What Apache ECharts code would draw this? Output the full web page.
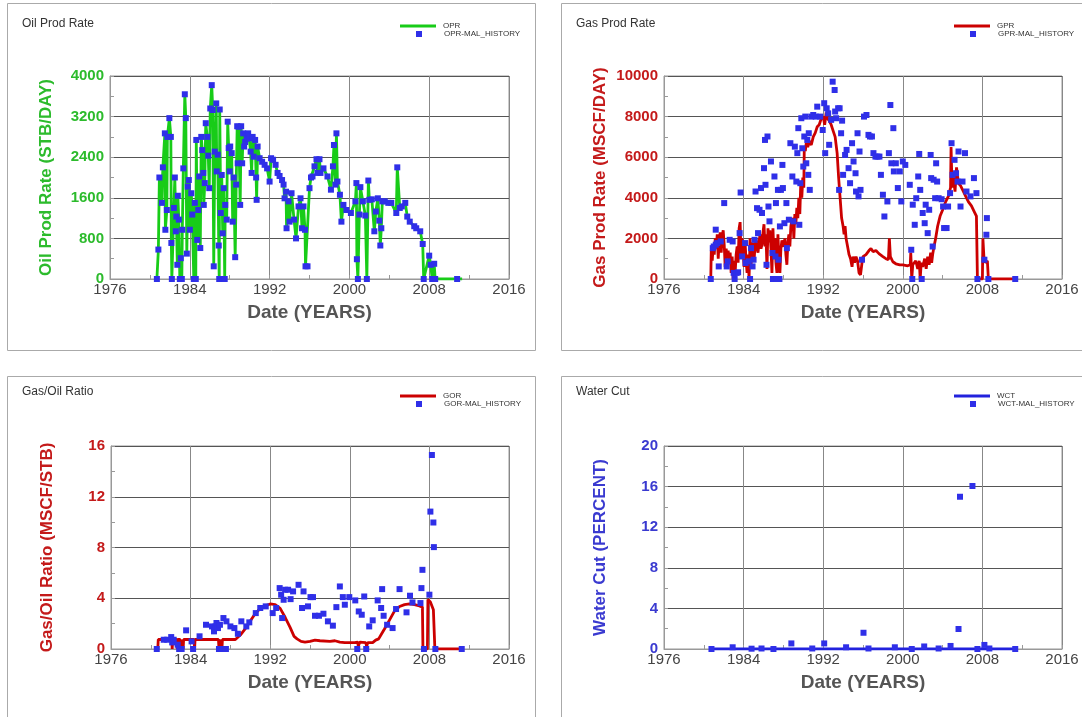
<!DOCTYPE html>
<html>
<head>
<meta charset="utf-8">
<script src="https://cdn.jsdelivr.net/npm/echarts@6/dist/echarts.min.js"></script>
<style>html,body{margin:0;padding:0;background:#fff;}#c{width:1082px;height:717px;}</style>
</head>
<body>
<div id="c"></div>
<script>
// ---------- DATA ----------
const panelTitles = ['Oil Prod Rate', 'Gas Prod Rate', 'Gas/Oil Ratio', 'Water Cut'];
const yNames = ['Oil Prod Rate (STB/DAY)', 'Gas Prod Rate (MSCF/DAY)', 'Gas/Oil Ratio (MSCF/STB)', 'Water Cut (PERCENT)'];
const xName = 'Date (YEARS)';
const yearTicks = [1976, 1984, 1992, 2000, 2008, 2016];
const yMax = [4000, 10000, 16, 20];
const yStep = [800, 2000, 4, 4];
const simNames = ['OPR', 'GPR', 'GOR', 'WCT'];
const histNames = ['OPR-MAL_HISTORY', 'GPR-MAL_HISTORY', 'GOR-MAL_HISTORY', 'WCT-MAL_HISTORY'];

// Oil production rate history [year, STB/DAY]
const oprHist = [
[1980.7,0],[1980.85,580],[1980.95,2000],[1981.2,1500],[1981.3,2200],[1981.5,2870],[1981.55,970],[1981.7,1360],[1981.75,2800],[1981.95,3170],
[1982.1,2800],[1982.15,710],[1982.2,0],[1982.4,1400],[1982.5,2000],[1982.6,940],[1982.65,1230],[1982.75,280],[1982.8,1640],[1982.9,1170],
[1983.0,0],[1983.1,410],[1983.2,0],[1983.25,970],[1983.35,2180],[1983.5,3640],[1983.6,3170],[1983.7,500],[1983.8,1820],[1983.9,1950],
[1984.0,970],[1984.15,1690],[1984.25,1270],[1984.4,0],[1984.5,1500],[1984.6,0],[1984.65,2740],[1984.75,770],[1984.85,1360],[1984.95,2020],
[1985.05,610],[1985.15,2800],[1985.25,2540],[1985.35,2090],[1985.4,1460],[1985.5,1890],[1985.6,3070],[1985.75,2800],[1985.85,2430],[1985.95,1790],
[1986.05,3360],[1986.2,3820],[1986.3,3330],[1986.4,250],[1986.5,2510],[1986.65,3460],[1986.7,2120],[1986.8,2450],[1986.9,660],[1986.95,0],
[1987.0,3340],[1987.1,1300],[1987.2,2050],[1987.3,900],[1987.4,1790],[1987.5,0],[1987.55,1460],[1987.7,1170],[1987.8,3100],[1987.9,2580],
[1988.0,2120],[1988.05,2610],[1988.2,2480],[1988.3,1130],[1988.4,2000],[1988.55,430],[1988.65,1860],[1988.75,3010],[1988.8,2280],[1988.9,3000],
[1989.05,1460],[1989.15,3010],[1989.25,2280],[1989.35,2870],[1989.45,2610],[1989.55,2700],[1989.7,2770],[1989.85,2870],[1989.95,2770],
[1990.1,2510],[1990.2,2090],[1990.3,2800],[1990.4,2410],[1990.55,2740],[1990.65,2000],[1990.7,1560],[1990.8,2610],[1991.0,2380],[1991.25,2310],
[1991.5,2250],[1991.75,2180],[1992.0,1920],[1992.15,2380],[1992.35,2350],[1992.6,2250],[1992.8,2090],[1993.0,2030],[1993.25,1950],[1993.4,1860],
[1993.5,1590],[1993.65,1720],[1993.7,1000],[1993.9,1530],[1994.0,1130],[1994.2,1690],[1994.45,1170],[1994.65,800],[1994.9,1430],[1995.1,1590],
[1995.25,1000],[1995.4,1430],[1995.55,970],[1995.6,250],[1995.8,250],[1996.0,1790],[1996.15,2000],[1996.3,2020],[1996.5,2220],[1996.7,2360],
[1996.8,2090],[1997.0,2360],[1997.1,2090],[1997.4,2180],[1997.8,2020],[1998.15,1760],[1998.35,2220],[1998.45,2640],[1998.6,1860],[1998.7,2870],
[1998.8,1920],[1999.05,1660],[1999.2,1130],[1999.4,1460],[1999.7,1360],[2000.15,1300],[2000.6,1530],[2000.7,1890],[2000.75,390],[2000.85,0],
[2001.0,1270],[2001.1,1810],[2001.35,1530],[2001.6,1250],[2001.75,0],[2001.9,1940],[2002.0,1560],[2002.25,1570],[2002.5,940],[2002.65,1330],
[2002.85,1590],[2003.0,1150],[2003.1,660],[2003.2,1000],[2003.3,1530],[2003.55,1530],[2003.9,1500],[2004.2,1500],[2004.7,1300],[2004.8,2200],
[2005.05,1400],[2005.25,1430],[2005.6,1500],[2005.8,1230],[2006.05,1130],[2006.5,1040],[2006.7,1000],[2007.1,940],[2007.35,690],[2007.45,0],
[2008.0,460],[2008.15,280],[2008.3,0],[2008.5,300],[2008.6,0],[2010.8,0]
];
// Simulated oil rate follows the controlled history
const oprSim = oprHist.concat([[2011.3,0]]);

// Gas production rate history [year, MSCF/DAY]
const gprHist = [
[1980.7,0],[1980.9,1520],[1981.0,1600],[1981.2,1690],[1981.35,1770],[1981.2,2430],[1981.5,620],[1981.7,1850],[1982.05,3740],[1982.3,620],
[1982.4,870],[1982.6,1930],[1982.9,1850],[1983.0,300],[1983.1,0],[1983.3,300],[1983.45,330],[1983.6,2260],[1983.7,4260],[1983.85,1110],
[1984.15,1770],[1984.2,790],[1984.5,870],[1984.65,0],[1984.75,1520],[1984.9,620],[1985.0,950],[1985.1,1930],[1985.2,4310],[1985.35,3490],
[1985.45,2260],[1985.6,3410],[1985.75,4480],[1985.85,3250],[1986.05,5460],[1986.15,6850],[1986.2,4640],[1986.3,700],[1986.4,7020],[1986.5,3570],
[1986.6,2840],[1986.75,5790],[1986.9,1280],[1986.95,0],[1987.1,5050],[1987.2,1110],[1987.25,3740],[1987.35,0],[1987.45,4390],[1987.5,950],
[1987.6,0],[1987.65,2590],[1987.75,4390],[1987.9,5620],[1987.95,4480],[1988.1,2750],[1988.3,3740],[1988.35,1520],[1988.55,2920],[1988.7,6690],
[1988.9,5050],[1989.0,2840],[1989.15,6520],[1989.3,4800],[1989.4,6200],[1989.5,7430],[1989.6,2670],[1989.7,4720],[1989.8,7920],[1989.9,6440],
[1990.0,5540],[1990.1,7020],[1990.2,8000],[1990.3,5700],[1990.4,6850],[1990.5,5130],[1990.55,7180],[1990.65,4390],[1990.8,8000],[1991.0,8080],
[1991.25,8000],[1991.4,8490],[1991.7,8000],[1991.95,7340],[1992.1,8660],[1992.2,6200],[1992.35,8410],[1992.5,8160],[1992.6,6610],[1992.8,7840],
[1992.95,9720],[1993.15,9310],[1993.2,8250],[1993.3,7920],[1993.5,8410],[1993.65,8410],[1993.6,4390],[1993.8,7180],[1993.9,7800],[1994.0,5130],
[1994.2,6110],[1994.35,6360],[1994.55,5460],[1994.7,4720],[1994.9,6690],[1995.05,5790],[1995.25,5210],[1995.3,4310],[1995.45,7180],[1995.55,4070],
[1995.65,6280],[1995.75,4390],[1995.9,950],[1996.1,8000],[1996.35,8080],[1996.55,7100],[1996.7,7020],[1996.9,7020],[1997.05,6200],[1997.25,6030],
[1997.45,6030],[1997.65,6030],[1997.8,5130],[1998.0,4150],[1998.15,3080],[1998.45,3820],[1998.6,6200],[1998.75,8570],[1998.85,5700],[1999.05,7430],
[1999.1,5300],[1999.3,5700],[1999.5,4480],[1999.7,5300],[1999.85,3820],[2000.0,5790],[2000.25,5620],[2000.7,4640],[2000.85,1440],[2000.95,0],
[2001.0,3660],[2001.2,2670],[2001.35,3980],[2001.55,5050],[2001.65,6160],[2001.75,4390],[2001.9,0],[2002.0,3250],[2002.2,2750],[2002.3,3660],
[2002.5,2260],[2002.65,3410],[2002.8,6110],[2002.85,4970],[2003.0,1600],[2003.1,4890],[2003.25,3980],[2003.35,5700],[2003.45,4800],[2003.6,3980],
[2003.9,3930],[2004.05,3570],[2004.15,2510],[2004.4,2510],[2004.55,3570],[2004.75,4230],[2004.9,6690],[2005.0,5130],[2005.2,5870],[2005.35,5210],
[2005.5,4800],[2005.6,6280],[2005.8,3570],[2006.0,4800],[2006.25,6200],[2006.4,4310],[2006.8,4070],[2007.15,4970],[2007.4,4230],[2007.5,0],
[2008.2,950],[2008.4,2180],[2008.45,3000],[2008.6,0],[2011.3,0]
];
// Simulated gas rate [year, MSCF/DAY]
const gprSim = [
[1980.7,0],[1980.75,1400],[1980.85,900],[1980.95,1700],[1981.05,1200],[1981.15,2000],[1981.25,1500],[1981.35,2200],[1981.45,1000],[1981.55,1900],
[1981.65,2300],[1981.75,1300],[1981.85,2100],[1981.95,2400],[1982.05,1700],[1982.15,600],[1982.25,1500],[1982.35,1000],[1982.45,1400],[1982.55,800],
[1982.65,1300],[1982.75,300],[1982.85,1100],[1982.95,0],[1983.05,900],[1983.15,300],[1983.25,1200],[1983.35,1600],[1983.45,800],[1983.55,2500],
[1983.65,2800],[1983.75,1000],[1983.85,2000],[1983.95,1300],[1984.05,600],[1984.15,1800],[1984.25,900],[1984.35,300],[1984.45,1200],[1984.55,0],
[1984.65,2000],[1984.75,700],[1984.85,1300],[1984.95,1800],[1985.05,900],[1985.15,1600],[1985.25,2000],[1985.35,1500],[1985.45,1300],[1985.55,1800],
[1985.65,2200],[1985.75,1500],[1985.85,1700],[1985.95,2300],[1986.05,2700],[1986.15,1600],[1986.25,2200],[1986.35,500],[1986.45,2500],[1986.55,1800],
[1986.65,2400],[1986.75,1500],[1986.85,300],[1986.95,2500],[1987.05,1200],[1987.15,2000],[1987.25,800],[1987.35,300],[1987.45,2200],[1987.55,1000],
[1987.65,300],[1987.75,1500],[1987.85,1900],[1987.95,1700],[1988.05,1600],[1988.15,2000],[1988.25,1200],[1988.35,700],[1988.45,1800],[1988.55,2200],
[1988.65,1600],[1988.75,2600],[1988.85,2900],[1988.95,3000],[1989.05,2000],[1989.15,3200],[1989.25,2700],[1989.35,3500],[1989.45,3000],[1989.55,4000],
[1989.65,3200],[1989.75,4800],[1989.85,4000],[1989.95,5000],[1990.05,4500],[1990.1,6500],[1990.2,6300],[1990.3,6700],[1990.45,6500],[1990.6,6800],
[1990.8,6600],[1991.0,7000],[1991.2,7200],[1991.4,7500],[1991.6,7600],[1991.8,7900],[1992.0,8000],[1992.15,7600],[1992.3,8200],[1992.45,7900],
[1992.6,7800],[1992.8,7600],[1993.0,7300],[1993.2,7000],[1993.4,6200],[1993.55,5000],[1993.7,4000],[1993.85,3000],[1994.0,2600],[1994.1,2200],
[1994.2,2600],[1994.3,2000],[1994.45,1600],[1994.6,1200],[1994.75,1000],[1994.9,600],[1995.0,1100],[1995.15,800],[1995.3,1100],[1995.45,900],
[1995.6,300],[1995.75,200],[1995.9,800],[1996.0,1100],[1996.3,1200],[1996.6,1400],[1996.8,1500],[1997.0,1350],[1997.3,1400],[1997.6,1250],
[1998.0,1100],[1998.3,1000],[1998.55,950],[1998.65,2000],[1998.75,1100],[1999.0,850],[1999.3,750],[1999.7,700],[2000.0,700],[2000.5,650],
[2000.75,700],[2000.8,1300],[2000.9,0],[2001.0,700],[2001.3,900],[2001.5,500],[2001.65,900],[2001.75,0],[2001.85,800],[2002.0,600],
[2002.2,1000],[2002.35,500],[2002.5,1100],[2002.65,700],[2002.8,1300],[2002.9,800],[2003.0,1200],[2003.1,1500],[2003.3,2000],[2003.5,2600],
[2003.75,3100],[2004.0,3400],[2004.3,3800],[2004.6,4100],[2004.8,4500],[2004.85,6500],[2004.95,4500],[2005.1,5000],[2005.25,4300],[2005.4,5500],
[2005.6,4700],[2005.8,4600],[2006.0,4400],[2006.3,4100],[2006.6,3800],[2006.9,3600],[2007.2,3300],[2007.4,3100],[2007.5,0],[2008.0,0],
[2008.05,2000],[2008.15,1100],[2008.3,800],[2008.5,900],[2008.6,0],[2011.3,0]
];

// Gas/oil ratio history [year, MSCF/STB]
const gorHist = [
[1980.6,0],[1981.3,0.73],[1981.65,0.73],[1982.05,0.94],[1982.15,0.52],[1982.3,0.73],[1982.7,0.34],[1982.85,0],[1983.1,0],[1983.55,1.47],
[1984.1,0.6],[1984.25,0],[1984.9,1.0],[1985.55,1.91],[1986.15,1.78],[1986.35,1.39],[1986.5,1.78],[1986.6,2.05],[1986.75,1.65],[1986.85,0],
[1986.95,1.91],[1987.15,0],[1987.3,2.44],[1987.55,0],[1987.6,2.18],[1988.0,1.78],[1988.4,1.65],[1988.75,1.2],[1989.1,2.18],[1989.6,1.78],
[1989.9,2.1],[1990.55,2.83],[1991.0,3.23],[1991.55,3.36],[1992.25,2.83],[1992.6,3.23],[1992.95,4.8],[1993.1,4.28],[1993.2,2.44],[1993.35,3.88],
[1993.5,4.67],[1993.8,4.67],[1994.05,3.93],[1994.3,4.54],[1994.85,5.06],[1995.2,3.23],[1995.35,4.54],[1995.8,3.36],[1996.05,4.09],[1996.3,4.09],
[1996.5,2.62],[1996.9,2.62],[1997.35,2.78],[1997.8,2.18],[1998.3,1.84],[1998.65,3.3],[1999.0,4.93],[1999.3,4.09],[1999.5,3.49],[1999.95,4.09],
[2000.55,3.83],[2000.75,0],[2000.9,2.96],[2001.2,2.7],[2001.45,4.14],[2001.65,0],[2001.95,1.78],[2002.3,2.26],[2002.8,3.83],[2003.15,3.23],
[2003.25,4.72],[2003.4,2.62],[2003.75,1.91],[2004.3,1.65],[2004.65,3.15],[2005.0,4.72],[2005.7,2.89],[2006.05,4.2],[2006.3,3.67],[2007.1,3.62],
[2007.2,4.8],[2007.3,6.24],[2007.45,0],[2008.0,4.28],[2008.1,10.83],[2008.25,15.29],[2008.4,9.97],[2008.45,8.03],[2008.6,0],[2011.25,0]
];
// Simulated gas/oil ratio [year, MSCF/STB]
const gorSim = [
[1980.7,0],[1980.75,0.75],[1982.1,0.75],[1982.15,0],[1982.2,0.75],[1982.6,0.75],[1982.65,0],[1982.7,0.75],[1982.95,0.75],[1983.0,0],
[1983.05,0.75],[1983.2,0.75],[1983.25,0],[1983.3,0.75],[1984.35,0.75],[1984.4,0],[1984.45,0.75],[1986.8,0.75],[1986.85,0],[1986.9,0.75],
[1987.1,0.75],[1987.15,0],[1987.2,0.75],[1988.5,0.75],[1989.0,1.1],[1989.5,1.6],[1990.0,2.2],[1990.5,2.8],[1991.0,3.2],[1991.5,3.4],
[1992.0,3.55],[1992.5,3.5],[1993.0,3.2],[1993.5,2.5],[1994.0,1.7],[1994.4,1.0],[1994.7,0.8],[1994.9,0.9],[1995.1,0.6],[1995.5,0.55],
[1996.0,0.6],[1996.5,0.7],[1997.0,0.65],[1998.0,0.6],[1998.5,0.65],[1999.0,0.55],[1999.5,0.5],[2000.0,0.5],[2000.5,0.5],[2000.8,0.55],
[2000.85,0.2],[2001.0,0.55],[2001.6,0.5],[2001.7,0.2],[2001.8,0.5],[2002.3,0.5],[2002.6,0.7],[2002.9,0.8],[2003.2,1.2],[2003.5,1.6],
[2004.0,2.3],[2004.5,3.0],[2005.0,3.35],[2005.5,3.5],[2006.0,3.55],[2006.5,3.5],[2007.0,3.4],[2007.3,3.3],[2007.35,0],[2007.8,0],
[2007.85,3.9],[2008.1,3.7],[2008.4,3.1],[2008.5,3.0],[2008.55,0],[2011.3,0]
];

// Water cut history [year, PERCENT]
const wctHist = [
[1980.77,0],[1982.9,0.17],[1984.8,0.03],[1985.8,0.05],[1987.0,0],[1988.8,0.55],[1990.9,0.05],[1992.1,0.55],[1994.3,0.17],[1996.05,1.6],
[1996.55,0.05],[1999.2,0.17],[2000.9,0],[2002.15,0.25],[2003.6,0.05],[2004.8,0.3],[2005.6,1.97],[2005.75,15.0],[2007.0,16.06],[2007.5,0],
[2008.2,0.4],[2008.7,0.05],[2011.3,0]
];
// Simulated water cut [year, PERCENT]
const wctSim = [[1980.7,0],[1990,0],[2000,0],[2011.3,0]];

// ---------- LAYOUT / STYLE ----------
const simData = [oprSim, gprSim, gorSim, wctSim];
const histData = [oprHist, gprHist, gorHist, wctHist];
const simColors = ['#18cc18', '#cc0000', '#cc0000', '#2222dd'];
const axisColors = ['#2cbb2c', '#c41a1a', '#c41a1a', '#3a3ad0'];
const histColor = '#2f2fe8';
const grids = [
  {left: 110, top: 76, width: 399, height: 203},
  {left: 664, top: 76, width: 398, height: 203},
  {left: 111, top: 446, width: 398, height: 203},
  {left: 664, top: 446, width: 398, height: 203}
];
const titlePos = [[17, 13], [571, 13], [17, 381], [571, 381]];
const legendPos = [[400, 22], [954, 22], [400, 392], [954, 392]];
const boxes = [[7.5, 3.5, 528, 347], [561.5, 3.5, 530, 347], [7.5, 376.5, 528, 350], [561.5, 376.5, 530, 350]];

const FONT = 'Liberation Sans, Arial, Helvetica, sans-serif';
const plain = v => String(v);
const option = {
  animation: false,
  backgroundColor: '#fff',
  textStyle: {fontFamily: FONT},
  title: panelTitles.map((t, i) => ({
    text: t, left: titlePos[i][0], top: titlePos[i][1],
    textStyle: {fontSize: 12, fontWeight: 'normal', color: '#333', fontFamily: FONT}
  })),
  legend: [].concat(...simNames.map((n, i) => [
    {data: [{name: n, icon: 'rect'}], left: legendPos[i][0], top: legendPos[i][1], itemWidth: 36, itemHeight: 3,
     selectedMode: false, padding: 0, textStyle: {fontSize: 8, color: '#333', fontFamily: FONT, padding: [0, 0, 0, 2]}},
    {data: [{name: histNames[i], icon: 'rect'}], left: legendPos[i][0] + 16, top: legendPos[i][1] + 8, itemWidth: 6, itemHeight: 6,
     selectedMode: false, padding: 0, textStyle: {fontSize: 8, color: '#333', fontFamily: FONT, padding: [0, 0, 0, 17]}}
  ])),
  graphic: boxes.map(b => ({
    type: 'rect', shape: {x: b[0], y: b[1], width: b[2], height: b[3]},
    style: {fill: 'none', stroke: '#aaaaaa', lineWidth: 1}, silent: true, z: -1
  })),
  grid: grids.map(g => Object.assign({show: true, borderColor: '#999', borderWidth: 1, backgroundColor: 'transparent'}, g)),
  xAxis: grids.map((g, i) => ({
    type: 'value', gridIndex: i, min: yearTicks[0], max: yearTicks[yearTicks.length - 1], interval: 8,
    name: xName, nameLocation: 'middle', nameGap: 24,
    nameTextStyle: {fontSize: 19, fontWeight: 'bold', color: '#555', fontFamily: FONT},
    axisLine: {show: true, lineStyle: {color: '#999'}},
    axisTick: {show: true, inside: true, length: 4, lineStyle: {color: '#999'}},
    minorTick: {show: true, splitNumber: 2, length: 4, lineStyle: {color: '#999'}},
    axisLabel: {fontSize: 15, color: '#444', margin: 3, fontFamily: FONT, formatter: plain},
    splitLine: {show: true, lineStyle: {color: '#888', width: 1}}
  })),
  yAxis: grids.map((g, i) => ({
    type: 'value', gridIndex: i, min: 0, max: yMax[i], interval: yStep[i],
    name: yNames[i], nameLocation: 'middle', nameGap: 55, nameRotate: 90,
    nameTextStyle: {fontSize: 17, fontWeight: 'bold', color: axisColors[i], fontFamily: FONT},
    axisLine: {show: true, lineStyle: {color: '#999'}},
    axisTick: {show: true, inside: true, length: 4, lineStyle: {color: '#999'}},
    minorTick: {show: true, splitNumber: 2, length: 4, lineStyle: {color: '#999'}},
    axisLabel: {fontSize: 15, fontWeight: 'bold', color: axisColors[i], margin: 6, fontFamily: FONT, formatter: plain},
    splitLine: {show: true, lineStyle: {color: '#555', width: 1}}
  })),
  series: [].concat(...simNames.map((n, i) => [
    {name: n, type: 'line', xAxisIndex: i, yAxisIndex: i, data: simData[i], showSymbol: false, symbol: 'none',
     lineStyle: {color: simColors[i], width: 2.8}, itemStyle: {color: simColors[i]}, z: 2},
    {name: histNames[i], type: 'scatter', xAxisIndex: i, yAxisIndex: i, data: histData[i], symbol: 'rect', symbolSize: 6,
     itemStyle: {color: histColor, opacity: 1}, z: 3}
  ]))
};
const chart = echarts.init(document.getElementById('c'), null, {renderer: 'canvas'});
chart.setOption(option);
</script>
</body>
</html>
